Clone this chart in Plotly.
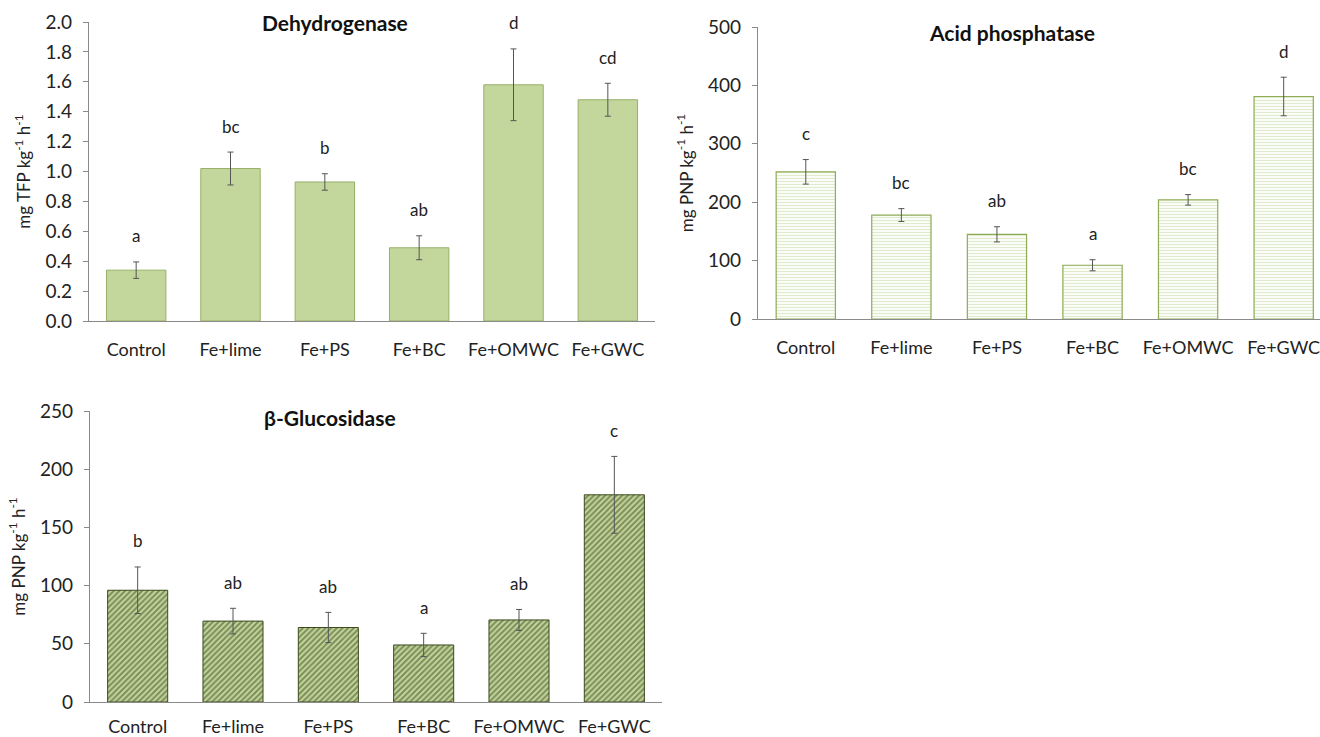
import plotly.graph_objects as go

# Treatments shared by all three panels
categories = ["Control", "Fe+lime", "Fe+PS", "Fe+BC", "Fe+OMWC", "Fe+GWC"]

# Dehydrogenase (mg TFP kg-1 h-1)
dh_mean = [0.34, 1.02, 0.93, 0.49, 1.58, 1.48]
dh_err = [0.055, 0.11, 0.055, 0.08, 0.24, 0.11]
dh_letters = ["a", "bc", "b", "ab", "d", "cd"]

# Acid phosphatase (mg PNP kg-1 h-1)
ap_mean = [252, 178, 145, 92, 204, 381]
ap_err = [21, 11, 13, 9.5, 9, 33]
ap_letters = ["c", "bc", "ab", "a", "bc", "d"]

# beta-Glucosidase (mg PNP kg-1 h-1)
bg_mean = [96, 69.5, 64, 49, 70.5, 178]
bg_err = [20, 11, 13, 10, 9, 33]
bg_letters = ["b", "ab", "ab", "a", "ab", "c"]

FONT = "Lato, Open Sans, sans-serif"
W, H = 1320, 737

fig = go.Figure()

err_style = dict(type="data", thickness=1, width=3, color="#555555")

fig.add_trace(go.Bar(
    x=categories, y=dh_mean, xaxis="x", yaxis="y",
    error_y=dict(array=dh_err, **err_style),
    marker=dict(color="#c3d69b", line=dict(color="#98b06a", width=1)),
    width=0.63, showlegend=False,
))
fig.add_trace(go.Bar(
    x=categories, y=ap_mean, xaxis="x2", yaxis="y2",
    error_y=dict(array=ap_err, **err_style),
    marker=dict(color="#c3d69b", line=dict(color="#8eab55", width=1.2),
                pattern=dict(shape="-", bgcolor="#ffffff", fgcolor="#c3d69b",
                             size=3, solidity=0.45)),
    width=0.62, showlegend=False,
))
fig.add_trace(go.Bar(
    x=categories, y=bg_mean, xaxis="x3", yaxis="y3",
    error_y=dict(array=bg_err, **err_style),
    marker=dict(color="#3c4a1e", line=dict(color="#3c4a1e", width=1),
                pattern=dict(shape="/", bgcolor="#c3d69b", fgcolor="#36421a",
                             size=4, solidity=0.5)),
    width=0.63, showlegend=False,
))

axis_color = "#8a8a8a"
xbase = dict(type="category", showline=True, linecolor=axis_color, linewidth=1.3,
             ticks="", showgrid=False, zeroline=False, automargin=False,
             tickfont=dict(family=FONT, size=18, color="#222222"))
ybase = dict(showline=True, linecolor=axis_color, linewidth=1.3,
             ticks="outside", ticklen=5, tickcolor=axis_color,
             showgrid=False, zeroline=False, automargin=False,
             tickfont=dict(family=FONT, size=19, color="#222222"),
             ticklabelstandoff=7)
ytitle_font = dict(family=FONT, size=17, color="#222222")

fig.update_layout(
    width=W, height=H, margin=dict(l=0, r=0, t=0, b=0, autoexpand=False),
    paper_bgcolor="white", plot_bgcolor="white", bargap=0.37,
    xaxis=dict(domain=[89 / W, 655 / W], anchor="y", range=[-0.5, 5.5],
               ticklabelstandoff=12, **xbase),
    yaxis=dict(domain=[1 - 321 / H, 1 - 22 / H], anchor="x", range=[0, 2.0],
               dtick=0.2, tickformat=".1f",
               title=dict(text="mg TFP kg<sup>-1</sup> h<sup>-1</sup>", font=ytitle_font, standoff=10),
               **ybase),
    xaxis2=dict(domain=[758 / W, 1.0], anchor="y2", range=[-0.5, 5.38],
                ticklabelstandoff=12, **xbase),
    yaxis2=dict(domain=[1 - 319 / H, 1 - 27 / H], anchor="x2", range=[0, 500],
                dtick=100,
                title=dict(text="mg PNP kg<sup>-1</sup> h<sup>-1</sup>", font=ytitle_font, standoff=10),
                **ybase),
    xaxis3=dict(domain=[90 / W, 662 / W], anchor="y3", range=[-0.5, 5.5],
                ticklabelstandoff=8, **xbase),
    yaxis3=dict(domain=[1 - 702 / H, 1 - 411 / H], anchor="x3", range=[0, 250],
                dtick=50,
                title=dict(text="mg PNP kg<sup>-1</sup> h<sup>-1</sup>", font=ytitle_font, standoff=10),
                **ybase),
)

# Significance letters above each error bar
letter_font = dict(family=FONT, size=17, color="#222222")
for xa, ya, means, errs, letters in [
    ("x", "y", dh_mean, dh_err, dh_letters),
    ("x2", "y2", ap_mean, ap_err, ap_letters),
    ("x3", "y3", bg_mean, bg_err, bg_letters),
]:
    for c, m, e, t in zip(categories, means, errs, letters):
        fig.add_annotation(x=c, y=m + e, xref=xa, yref=ya, text=t, showarrow=False,
                           yanchor="middle", yshift=26, font=letter_font)

# Panel titles
title_font = dict(family=FONT, size=21, color="#111111")
for txt, xp, yp in [
    ("<b>Dehydrogenase</b>", 335, 23),
    ("<b>Acid phosphatase</b>", 1012, 32),
    ("<b>β-Glucosidase</b>", 330, 417),
]:
    fig.add_annotation(x=xp / W, y=1 - yp / H, xref="paper", yref="paper", text=txt,
                       showarrow=False, xanchor="center", yanchor="middle", font=title_font)

fig.write_html("out.html")
